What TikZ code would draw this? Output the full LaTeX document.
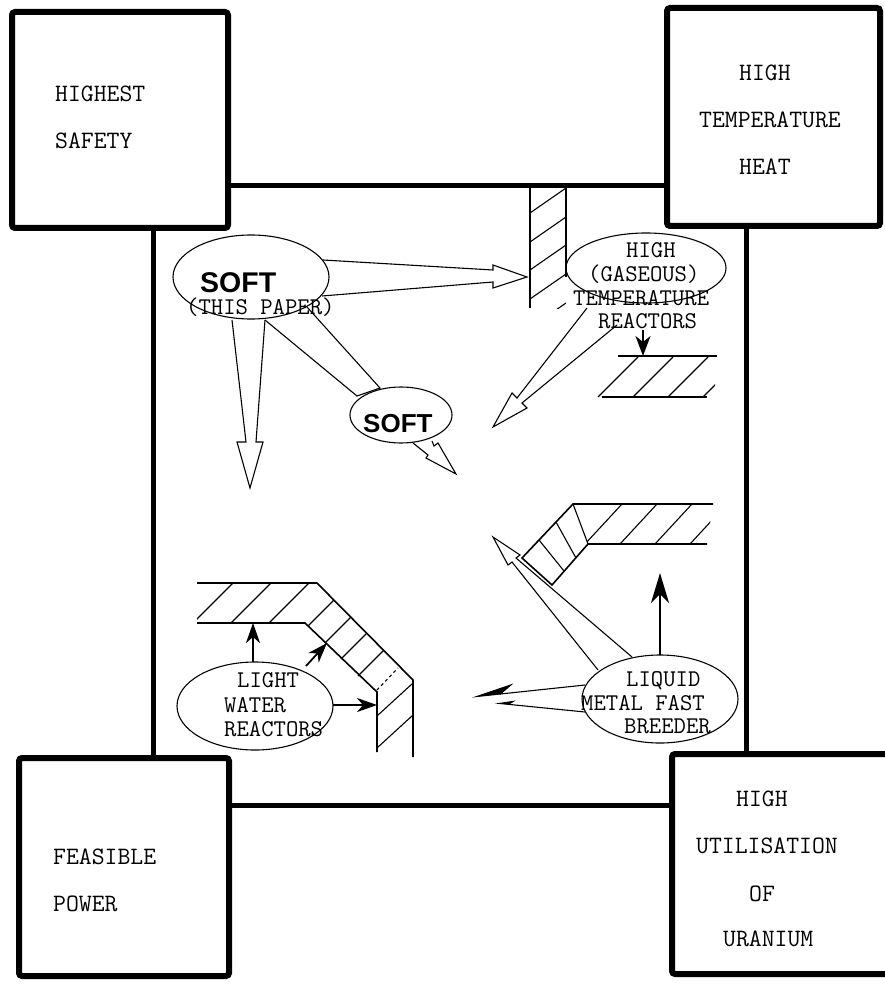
\documentclass[tikz,border=0pt]{standalone}
\usepackage{fontspec}
\newfontfamily\softfont{Liberation Sans}
\usetikzlibrary{shapes.geometric,arrows.meta}
\begin{document}
\begin{tikzpicture}[x=1pt,y=-1pt,
  frame/.style={line width=5pt},
  cbox/.style={draw, rectangle, line width=6pt, fill=white, rounded corners=3pt, inner sep=0pt},
  ell/.style={draw, ellipse, line width=1.1pt, inner sep=0pt},
  tw/.style={font=\fontsize{25}{25}\selectfont\ttfamily, inner sep=0pt, anchor=base west},
  twi/.style={font=\fontsize{24}{24}\selectfont\ttfamily, inner sep=0pt, anchor=base west},
  softlbl/.style={font=\fontsize{28.5}{28}\selectfont\softfont\bfseries, inner sep=0pt, anchor=base west},
  conn/.style={line width=1.1pt, line join=miter},
  wall/.style={line width=1.6pt},
  hatch/.style={line width=1.1pt},
  fat/.style={line width=1.8pt, -{Stealth[length=20pt,width=14pt,inset=6pt]}}
]
\useasboundingbox (0,0) rectangle (885,984);

% central frame
\draw[frame] (153,186) rectangle (746,805);

% corner boxes
\node[cbox, minimum width=216pt, minimum height=216pt] (safety) at (120,120) {};
\node[cbox, minimum width=213pt, minimum height=218pt] (heat) at (773.5,117) {};
\node[cbox, minimum width=210pt, minimum height=218pt] (power) at (124,867) {};
\begin{scope}
\clip (0,0) rectangle (885,984);
\node[cbox, minimum width=220pt, minimum height=220pt] (uranium) at (782,864) {};
\end{scope}

\node[tw] (s1) at (55,102) {HIGHEST};
\node[tw] (s2) at (55,149) {SAFETY};
\node[tw] (h1) at (739,81) {HIGH};
\node[tw] (h2) at (699,128) {TEMPERATURE};
\node[tw] (h3) at (739,175) {HEAT};
\node[tw] (p1) at (53,864) {FEASIBLE};
\node[tw] (p2) at (53,911) {POWER};
\node[tw] (u1) at (736,806) {HIGH};
\node[tw] (u2) at (696,853) {UTILISATION};
\node[tw] (u3) at (749,901) {OF};
\node[tw] (u4) at (723,946) {URANIUM};

% ---------- hatched walls ----------
% vertical wall near HTGR
\begin{scope}
\clip (530,186) rectangle (566,308);
\foreach \y in {184,213,242,270,299,328} \draw[hatch] (530,\y) -- (566,\y-25);
\end{scope}
\draw[wall] (530,188) -- (530,308);
\draw[wall] (566,188) -- (566,277);

% floor under HTGR
\begin{scope}
\clip (590,356) rectangle (715,397);
\foreach \x in {598,633,668,703} \draw[hatch] (\x,397) -- (\x+40,357);
\end{scope}
\draw[wall] (618,356) -- (717,356);
\draw[wall] (602,397) -- (707,397);

% LWR elbow
\begin{scope}
\clip (197,583) -- (317,583) -- (305,623) -- (197,623) -- cycle;
\foreach \x in {193,231,269} \draw[hatch] (\x,623) -- (\x+40,583);
\end{scope}
\draw[wall] (197,583) -- (317,583) -- (413,680) -- (413,757);
\draw[wall] (197,623) -- (305,623) -- (377,692) -- (377,752);
\foreach \x in {308,325,341,358} \draw[hatch] (\x,\x+318) -- (\x+26,\x+292);
\draw[hatch, dashed] (377,690) -- (398,668);
\begin{scope}
\clip (377,692) -- (413,678) -- (413,757) -- (377,752) -- cycle;
\foreach \y in {716,748} \draw[hatch] (377,\y) -- (413,\y-33);
\end{scope}

% LMFBR elbow
\begin{scope}
\clip (573,504) -- (713,504) -- (707,544) -- (588,544) -- cycle;
\foreach \x in {585,620,655,690} \draw[hatch] (\x,544) -- (\x+37,504);
\end{scope}
\draw[wall] (713,504) -- (573,504) -- (522,558) -- (552,585) -- (588,544) -- (707,544);
\draw[hatch] (573,504) -- (588,544);
\draw[hatch] (539,540) -- (564,571);
\draw[hatch] (556,522) -- (576,558);

% ---------- ellipses ----------
\node[ell, minimum width=156pt, minimum height=84pt] (soft) at (251,277) {};
\node[softlbl] (softT) at (200,292) {SOFT};
\node[twi] (paper) at (186,314) {(THIS PAPER)};

\node[ell, minimum width=102pt, minimum height=56pt] (soft2) at (401,415) {};
\node[softlbl, font=\fontsize{26}{26}\selectfont\softfont\bfseries] (soft2T) at (363,432) {SOFT};

\node[ell, minimum width=160pt, minimum height=70pt] (htgr) at (646,268) {};
\node[twi] (g1) at (626,257) {HIGH};
\node[twi] (g2) at (588,281) {(GASEOUS)};
\node[twi] (g3) at (573,305) {TEMPERATURE};
\node[twi] (g4) at (598,328) {REACTORS};

\node[ell, minimum width=156pt, minimum height=88pt] (lwr) at (255,706) {};
\node[twi] (l1) at (237,687) {LIGHT};
\node[twi] (l2) at (224,712) {WATER};
\node[twi] (l3) at (224,736) {REACTORS};

\node[ell, minimum width=156pt, minimum height=88pt] (lmfbr) at (660,699) {};
\node[twi] (m1) at (626,686) {LIQUID};
\node[twi] (m2) at (581,710) {METAL FAST};
\node[twi] (m3) at (624,733) {BREEDER};

% ---------- connectors ----------
% SOFT -> right (hollow tapered arrow)
\draw[conn] (323,260) -- (493,270) -- (493,265) -- (527,277) -- (493,288) -- (493,282) -- (322,296);
% SOFT -> down
\draw[conn] (232,320) -- (246,442) -- (237,442) -- (250,488) -- (263,442) -- (256,442) -- (265,320);
% SOFT band to small SOFT
\draw[conn] (265,320) -- (357,396) -- (380,388) -- (307,307);
% small SOFT -> down right
\draw[conn] (413,443) -- (428,455) -- (426,458) -- (456,474) -- (438,443) -- (434,446) -- (432,441);
% HTGR -> down left
\draw[conn] (587,308) -- (517,398) -- (512,393) -- (493,427) -- (527,408) -- (522,403) -- (617,325);
% HTGR -> floor
\draw[line width=1.6pt, -{Stealth[length=20pt,width=15pt,inset=6pt]}] (643,330) -- (643,356);
% LWR arrows
\draw[fat] (253,662) -- (253,623);
\draw[fat] (306,666) -- (327,643);
\draw[fat] (333,705) -- (377,705);
% LMFBR arrows
\draw[line width=1.8pt, -{Stealth[length=30pt,width=18pt,inset=9pt]}] (660,655) -- (660,573);
\draw[conn] (598,670) -- (512,562) -- (508,565) -- (493,537) -- (520,555) -- (516,558) -- (632,657);
\draw[conn, -{Stealth[harpoon,swap,length=40pt,width=18pt]}] (585,685) -- (472,697);
\draw[conn, -{Stealth[harpoon,swap,length=18pt,width=9pt]}] (585,712) -- (495,703);
\end{tikzpicture}
\end{document}
